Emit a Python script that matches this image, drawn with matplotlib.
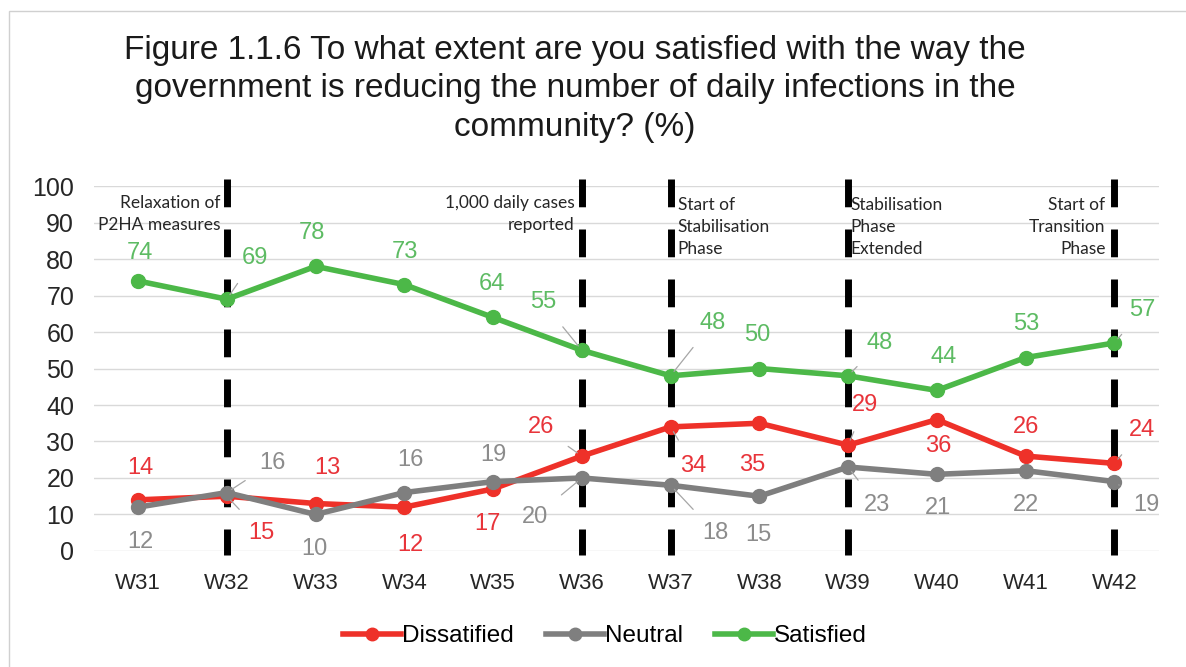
import matplotlib
matplotlib.use("Agg")
import matplotlib.pyplot as plt
from matplotlib.lines import Line2D
from matplotlib.patches import Rectangle

plt.rcParams['font.family'] = ['Liberation Sans', 'DejaVu Sans']

weeks = ["W31", "W32", "W33", "W34", "W35", "W36", "W37", "W38", "W39", "W40", "W41", "W42"]
dissatisfied = [14, 15, 13, 12, 17, 26, 34, 35, 29, 36, 26, 24]
neutral = [12, 16, 10, 16, 19, 20, 18, 15, 23, 21, 22, 19]
satisfied = [74, 69, 78, 73, 64, 55, 48, 50, 48, 44, 53, 57]
legend_names = ["Dissatified", "Neutral", "Satisfied"]

event_weeks = ["W32", "W36", "W37", "W39", "W42"]
event_texts = ["Relaxation of\nP2HA measures", "1,000 daily cases\nreported",
               "Start of\nStabilisation\nPhase", "Stabilisation\nPhase\nExtended",
               "Start of\nTransition\nPhase"]

# label offsets in pixels (dx right, dy down), leader flag
off_sat = [(2, -28, 0), (28, -41, 1), (-4, -33, 0), (1, -33, 0), (-1, -33, 0), (-39, -48, 1),
           (42, -53, 1), (-2, -34, 0), (32, -33, 1), (7, -33, 0), (1, -34, 0), (28, -33, 1)]
off_dis = [(2, -32, 0), (35, 37, 1), (12, -36, 0), (6, 38, 0), (-6, 35, 0), (-41, -29, 1),
           (23, 39, 1), (-7, 42, 0), (17, -40, 1), (1, 26, 0), (0, -29, 0), (28, -33, 1)]
off_neu = [(2, 35, 0), (46, -30, 1), (-1, 35, 0), (6, -33, 0), (0, -27, 0), (-47, 39, 1),
           (45, 48, 1), (-1, 39, 0), (29, 38, 1), (1, 34, 0), (0, 34, 0), (32, 23, 1)]

RED, RED_T = "#ee3129", "#e8343a"
GREY, GREY_T = "#7f7f7f", "#8c8c8c"
GREEN, GREEN_T = "#4cb848", "#5dbb63"

fig = plt.figure(figsize=(11.86, 6.67), dpi=100)
fig.patches.append(Rectangle((0.008, -0.01), 1.0, 0.993, transform=fig.transFigure,
                             fill=False, edgecolor="#d0d0d0", lw=1))
ax = fig.add_axes([0.079, 0.174, 0.898, 0.547])

x = list(range(len(weeks)))
ax.set_xlim(-0.5, len(weeks) - 0.5)
ax.set_ylim(0, 100)
ax.set_yticks(range(0, 101, 10))
ax.grid(axis="y", color="#d9d9d9", lw=1)
ax.set_axisbelow(True)
for s in ax.spines.values():
    s.set_visible(False)
ax.tick_params(length=0, labelsize=16, colors="#262626")
ax.tick_params(axis="x", pad=16)
ax.tick_params(axis="y", labelsize=18, pad=14)
ax.set_xticks(x)
ax.set_xticklabels(weeks)

# event lines
for wk in event_weeks:
    i = weeks.index(wk)
    ax.plot([i, i], [102, -1], color="black", lw=5, ls=(0, (4, 3.2)),
            solid_capstyle="butt", clip_on=False, zorder=2)

anno = dict(fontsize=12.5, color="#262626", family=["Lato", "DejaVu Sans"],
            va="top", linespacing=1.45)
ax.text(1 - 0.07, 97.5, event_texts[0], ha="right", **anno)
ax.text(5 - 0.08, 97.5, event_texts[1], ha="right", **anno)
ax.text(6 + 0.08, 97, event_texts[2], ha="left", **anno)
ax.text(8 + 0.03, 97, event_texts[3], ha="left", **anno)
ax.text(11 - 0.10, 97, event_texts[4], ha="right", **anno)

series = [(dissatisfied, RED, RED_T, off_dis),
          (neutral, GREY, GREY_T, off_neu),
          (satisfied, GREEN, GREEN_T, off_sat)]
for vals, c, tc, offs in series:
    ax.plot(x, vals, color=c, lw=4, marker="o", ms=10, zorder=3)
    for i, v in enumerate(vals):
        dx, dy, lead = offs[i]
        ap = dict(arrowstyle="-", color="#a6a6a6", lw=0.9, shrinkA=10, shrinkB=4) if lead else None
        ax.annotate(str(v), (i, v), xytext=(dx * 0.72, -dy * 0.72), textcoords="offset points",
                    ha="center", va="center", fontsize=17, color=tc, arrowprops=ap, zorder=4)

handles = [Line2D([], [], color=c, lw=4, marker="o", ms=9) for _, c, _, _ in series]
fig.legend(handles, legend_names, loc="center", bbox_to_anchor=(0.51, 0.046),
           ncol=3, frameon=False, fontsize=17.5, handlelength=2.4, columnspacing=1.3,
           handletextpad=0.05)

fig.text(0.485, 0.948, "Figure 1.1.6 To what extent are you satisfied with the way the\n"
         "government is reducing the number of daily infections in the\ncommunity? (%)",
         ha="center", va="top", fontsize=24, color="#1a1a1a", linespacing=1.32)

fig.savefig("out.png", dpi=100)
